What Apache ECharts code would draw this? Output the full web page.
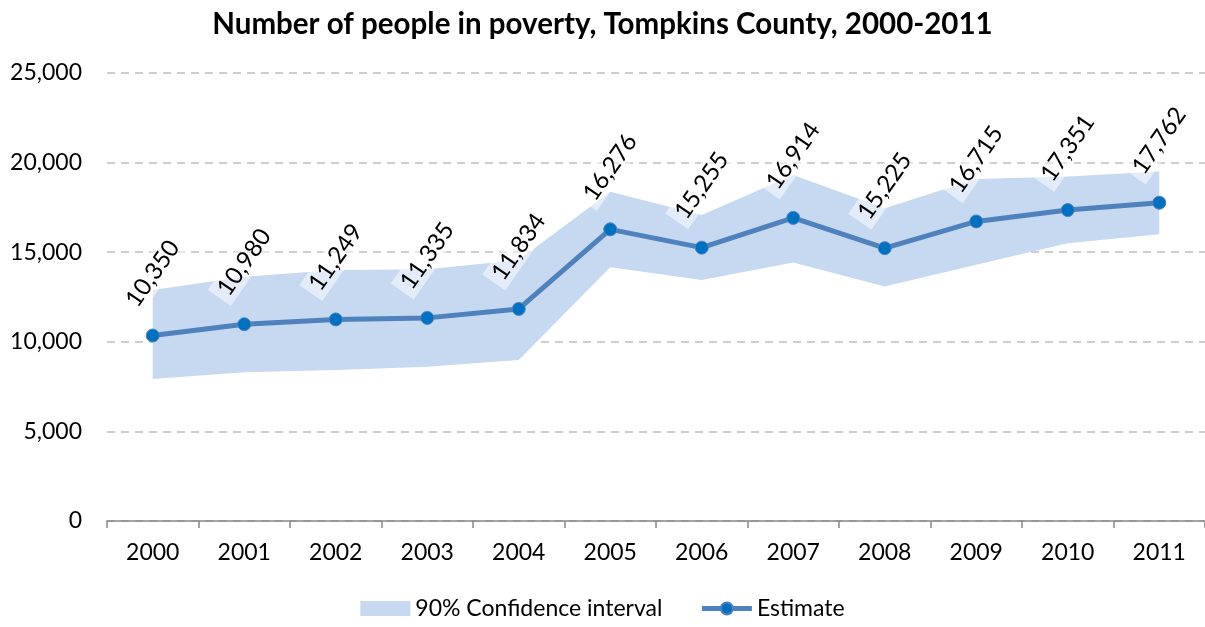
<!DOCTYPE html>
<html lang="en">
<head>
	<meta charset="UTF-8">
	<title>Poverty, Tompkins County</title>
	<style>
		html, body { margin: 0; padding: 0; background: #fff; }
	</style>
</head>
<body>
	<div id="chart_main" style="width:1205px;height:627px;"></div>
	<script src="https://cdn.jsdelivr.net/npm/echarts@6/dist/echarts.min.js"></script>
	<script>
	// data
	var years = ['2000','2001','2002','2003','2004','2005','2006','2007','2008','2009','2010','2011'];
	var estimate = [10350, 10980, 11249, 11335, 11834, 16276, 15255, 16914, 15225, 16715, 17351, 17762];
	var ciLow = [7920, 8300, 8430, 8610, 8980, 14160, 13450, 14420, 13080, 14300, 15500, 16000];
	var ciHigh = [12890, 13630, 14000, 14050, 14570, 18380, 17080, 19310, 17450, 19090, 19220, 19500];

	var fontName = 'Lato';
	var bandColor = '#c6d9f1';

	function fmt(v) {
		return String(v).replace(/\B(?=(\d{3})+(?!\d))/g, ',');
	}

	// band thickness on top of the lower bound (stacked)
	var ciSpan = [];
	for (var i = 0; i < years.length; i++) {
		ciSpan.push(ciHigh[i] - ciLow[i]);
	}

	var myChart = echarts.init(document.getElementById('chart_main'));
	var option = {
		animation: false,
		textStyle: { fontFamily: fontName },
		title: {
			text: 'Number of people in poverty, Tompkins County, 2000-2011',
			left: 'center',
			top: 4,
			textStyle: { fontFamily: fontName, fontSize: 29.5, fontWeight: 'bold', color: '#000' }
		},
		legend: {
			bottom: 2,
			left: 'center',
			itemWidth: 50,
			itemHeight: 15,
			itemGap: 37,
			textStyle: { fontFamily: fontName, fontSize: 23, color: '#000' },
			data: [
				{ name: '90% Confidence interval', icon: 'rect', itemStyle: { color: bandColor } },
				{ name: 'Estimate', lineStyle: { width: 5, color: '#4f81bd' } }
			]
		},
		grid: {
			left: 107,
			top: 73,
			width: 1101,
			height: 448
		},
		xAxis: {
			type: 'category',
			data: years,
			boundaryGap: true,
			axisLine: { lineStyle: { color: '#868686', width: 1.5 } },
			axisTick: { show: true, length: 7, lineStyle: { color: '#868686', width: 1.5 } },
			axisLabel: { fontFamily: fontName, fontSize: 23, color: '#000', margin: 20 }
		},
		yAxis: {
			type: 'value',
			min: 0,
			max: 25000,
			interval: 5000,
			axisLine: { show: false },
			axisTick: { show: false },
			axisLabel: {
				fontFamily: fontName, fontSize: 23, color: '#000', margin: 25,
				formatter: function (v) { return fmt(v); }
			},
			splitLine: { lineStyle: { color: '#bfbfbf', width: 1.5, type: [8, 6] } }
		},
		series: [
			{
				name: 'ciBase',
				type: 'line',
				stack: 'ci',
				data: ciLow,
				symbol: 'none',
				silent: true,
				lineStyle: { opacity: 0 },
				z: 1
			},
			{
				name: '90% Confidence interval',
				type: 'line',
				stack: 'ci',
				data: ciSpan,
				symbol: 'none',
				silent: true,
				color: bandColor,
				lineStyle: { opacity: 0 },
				areaStyle: { color: bandColor, opacity: 1 },
				z: 2
			},
			{
				name: 'Estimate',
				type: 'line',
				data: estimate,
				symbol: 'circle',
				symbolSize: 13,
				color: '#4f81bd',
				lineStyle: { color: '#4f81bd', width: 5 },
				itemStyle: { color: '#0070c0', borderColor: '#4f81bd', borderWidth: 1 },
				label: {
					show: true,
					position: 'top',
					distance: 55,
					rotate: 55,
					align: 'center',
					verticalAlign: 'middle',
					fontFamily: fontName,
					fontSize: 24,
					color: '#000',
					backgroundColor: 'rgba(255,255,255,0.5)',
					padding: [2, 6],
					formatter: function (p) { return fmt(p.value); }
				},
				z: 5
			}
		]
	};
	myChart.setOption(option);
	</script>
</body>
</html>
